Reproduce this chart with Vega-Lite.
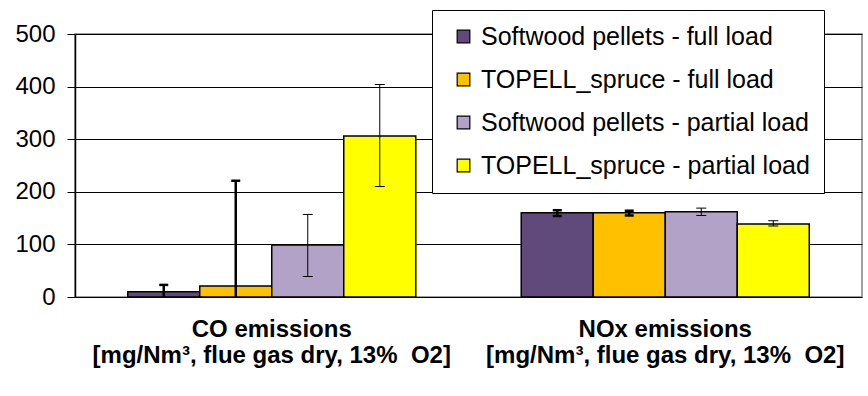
{
  "$schema": "https://vega.github.io/schema/vega-lite/v6.json",
  "width": 787,
  "height": 263,
  "autosize": {"type": "none"},
  "padding": {"left": 75, "top": 34, "right": 6, "bottom": 99},
  "background": "white",
  "config": {
    "font": "Liberation Sans",
    "view": {"stroke": "#808080", "strokeWidth": 1.5}
  },
  "data": {
    "values": [
      {"cat": "CO emissions", "series": "Softwood pellets - full load", "value": 10, "lo": -3, "hi": 23},
      {"cat": "CO emissions", "series": "TOPELL_spruce - full load", "value": 21, "lo": -179, "hi": 221},
      {"cat": "CO emissions", "series": "Softwood pellets - partial load", "value": 99, "lo": 39, "hi": 157},
      {"cat": "CO emissions", "series": "TOPELL_spruce - partial load", "value": 306, "lo": 210, "hi": 404},
      {"cat": "NOx emissions", "series": "Softwood pellets - full load", "value": 160, "lo": 154, "hi": 165},
      {"cat": "NOx emissions", "series": "TOPELL_spruce - full load", "value": 160, "lo": 155, "hi": 164},
      {"cat": "NOx emissions", "series": "Softwood pellets - partial load", "value": 162, "lo": 155, "hi": 169},
      {"cat": "NOx emissions", "series": "TOPELL_spruce - partial load", "value": 139, "lo": 135, "hi": 145}
    ]
  },
  "encoding": {
    "x": {
      "field": "cat",
      "type": "nominal",
      "sort": ["CO emissions", "NOx emissions"],
      "scale": {"paddingInner": 0.268, "paddingOuter": 0.134},
      "axis": {
        "title": null,
        "labelAngle": 0,
        "labelExpr": "[datum.label, '[mg/Nm³, flue gas dry, 13% \u00a0O2]']",
        "labelFontWeight": "bold",
        "labelFontSize": 24,
        "labelLineHeight": 26,
        "labelPadding": 20,
        "labelLimit": 600,
        "labelColor": "black",
        "ticks": false,
        "domain": false,
        "grid": false
      }
    },
    "xOffset": {
      "field": "series",
      "type": "nominal",
      "sort": ["Softwood pellets - full load", "TOPELL_spruce - full load", "Softwood pellets - partial load", "TOPELL_spruce - partial load"],
      "scale": {"paddingInner": 0, "paddingOuter": 0}
    }
  },
  "layer": [
    {
      "mark": {"type": "bar", "stroke": "black", "strokeWidth": 1.5, "clip": true},
      "encoding": {
        "y": {
          "field": "value",
          "type": "quantitative",
          "scale": {"domain": [0, 500], "nice": false},
          "axis": {
            "title": null,
            "values": [0, 100, 200, 300, 400, 500],
            "labelFontSize": 24,
            "labelColor": "black",
            "labelPadding": 12,
            "tickSize": 8,
            "tickColor": "black",
            "domainColor": "black",
            "domainWidth": 1.5,
            "gridColor": "black",
            "gridWidth": 1,
            "gridOpacity": 1
          }
        },
        "color": {
          "field": "series",
          "type": "nominal",
          "sort": ["Softwood pellets - full load", "TOPELL_spruce - full load", "Softwood pellets - partial load", "TOPELL_spruce - partial load"],
          "scale": {
            "domain": ["Softwood pellets - full load", "TOPELL_spruce - full load", "Softwood pellets - partial load", "TOPELL_spruce - partial load"],
            "range": ["#604A7B", "#FFC000", "#B3A2C7", "#FFFF00"]
          },
          "legend": {
            "title": null,
            "orient": "none",
            "legendX": 357,
            "legendY": -24,
            "labelFontSize": 25,
            "labelColor": "black",
            "labelLimit": 600,
            "labelOffset": 5,
            "symbolType": "square",
            "symbolSize": 160,
            "symbolStrokeColor": "black",
            "symbolStrokeWidth": 1.2,
            "symbolOpacity": 1,
            "symbolOffset": 5,
            "rowPadding": 17,
            "padding": 14,
            "strokeColor": "black",
            "fillColor": "white"
          }
        }
      }
    },
    {
      "mark": {"type": "rule", "color": "black", "clip": true},
      "encoding": {
        "y": {"field": "lo", "type": "quantitative"},
        "y2": {"field": "hi"},
        "strokeWidth": {"condition": {"test": "indexof(datum.series, 'full') >= 0", "value": 2.5}, "value": 1}
      }
    },
    {
      "transform": [{"filter": "indexof(datum.series, 'full') >= 0"}],
      "layer": [
        {"mark": {"type": "tick", "color": "black", "size": 9, "thickness": 2.5, "opacity": 1, "clip": true}, "encoding": {"y": {"field": "hi", "type": "quantitative"}}},
        {"mark": {"type": "tick", "color": "black", "size": 9, "thickness": 2.5, "opacity": 1, "clip": true}, "encoding": {"y": {"field": "lo", "type": "quantitative"}}}
      ]
    },
    {
      "transform": [{"filter": "indexof(datum.series, 'partial') >= 0"}],
      "layer": [
        {"mark": {"type": "tick", "color": "black", "size": 10, "thickness": 1, "opacity": 1, "clip": true}, "encoding": {"y": {"field": "hi", "type": "quantitative"}}},
        {"mark": {"type": "tick", "color": "black", "size": 10, "thickness": 1, "opacity": 1, "clip": true}, "encoding": {"y": {"field": "lo", "type": "quantitative"}}}
      ]
    }
  ]
}
